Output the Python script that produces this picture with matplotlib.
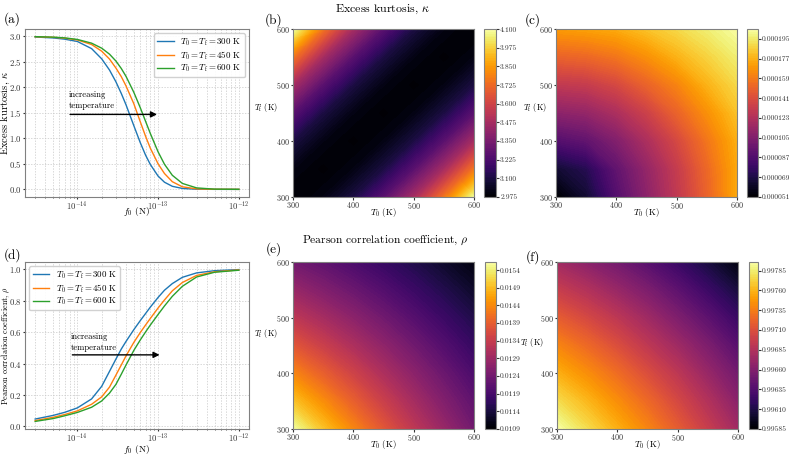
import numpy as np
import matplotlib
matplotlib.use('Agg')
import matplotlib.pyplot as plt
from matplotlib.ticker import FormatStrFormatter

plt.rcParams['font.family'] = 'serif'
plt.rcParams['font.serif'] = ['cmr10']
plt.rcParams['mathtext.fontset'] = 'cm'
plt.rcParams['axes.formatter.use_mathtext'] = True
plt.rcParams['axes.edgecolor'] = '0.5'

# сила f0 (N), спільна для лівих панелей
f0 = [3e-15, 5e-15, 7e-15, 1e-14, 1.5e-14, 2e-14, 2.5e-14, 3e-14, 3.5e-14, 4e-14,
      5e-14, 6e-14, 7e-14, 8e-14, 1e-13, 1.2e-13, 1.5e-13, 2e-13, 3e-13, 5e-13, 1e-12]

# (a) excess kurtosis
kappa_300 = [2.988, 2.97, 2.945, 2.9, 2.76, 2.56, 2.34, 2.11, 1.88, 1.66,
             1.25, 0.92, 0.67, 0.49, 0.26, 0.14, 0.06, 0.018, 0.003, 0.0005, 0.0]
kappa_450 = [2.993, 2.982, 2.965, 2.93, 2.84, 2.71, 2.555, 2.38, 2.21, 2.03,
             1.68, 1.33, 1.04, 0.81, 0.5, 0.31, 0.15, 0.05, 0.01, 0.002, 0.0002]
kappa_600 = [2.995, 2.985, 2.97, 2.94, 2.867, 2.769, 2.651, 2.517, 2.37, 2.217,
             1.904, 1.605, 1.333, 1.098, 0.735, 0.492, 0.276, 0.116, 0.029, 0.004, 0.0003]

# (d) Pearson correlation coefficient
rho_300 = [0.047, 0.07, 0.09, 0.118, 0.175, 0.255, 0.35, 0.428, 0.492, 0.54,
           0.615, 0.672, 0.718, 0.758, 0.82, 0.866, 0.908, 0.948, 0.976, 0.99, 0.997]
rho_450 = [0.037, 0.058, 0.076, 0.099, 0.141, 0.188, 0.25, 0.326, 0.391, 0.448,
           0.534, 0.596, 0.645, 0.686, 0.753, 0.804, 0.862, 0.915, 0.96, 0.983, 0.995]
rho_600 = [0.032, 0.05, 0.068, 0.089, 0.122, 0.162, 0.212, 0.267, 0.332, 0.39,
           0.483, 0.549, 0.601, 0.644, 0.712, 0.766, 0.827, 0.891, 0.95, 0.98, 0.993]

temps_line = [300, 450, 600]

# сітка температур для карт (рядки - Tf, стовпці - T0)
temps = [300, 350, 400, 450, 500, 550, 600]

kurt_b = [[2.98, 3.01, 3.10, 3.26, 3.47, 3.75, 4.08],
          [3.01, 2.98, 3.01, 3.10, 3.26, 3.47, 3.75],
          [3.10, 3.01, 2.98, 3.01, 3.10, 3.26, 3.47],
          [3.26, 3.10, 3.01, 2.98, 3.01, 3.10, 3.26],
          [3.47, 3.26, 3.10, 3.01, 2.98, 3.01, 3.10],
          [3.75, 3.47, 3.26, 3.10, 3.01, 2.98, 3.01],
          [4.10, 3.75, 3.47, 3.26, 3.10, 3.01, 2.98]]

kurt_c = [[51e-6, 64e-6, 88e-6, 109e-6, 129e-6, 150e-6, 174e-6],
          [64e-6, 72e-6, 93e-6, 112e-6, 131e-6, 152e-6, 174e-6],
          [88e-6, 93e-6, 105e-6, 121e-6, 138e-6, 157e-6, 176e-6],
          [109e-6, 112e-6, 121e-6, 134e-6, 150e-6, 166e-6, 182e-6],
          [129e-6, 131e-6, 138e-6, 150e-6, 162e-6, 177e-6, 189e-6],
          [150e-6, 152e-6, 157e-6, 166e-6, 177e-6, 187e-6, 196e-6],
          [170e-6, 172e-6, 175e-6, 182e-6, 189e-6, 196e-6, 203e-6]]

pear_e = [[0.01558, 0.01495, 0.01436, 0.01380, 0.01329, 0.01283, 0.01239],
          [0.01495, 0.01443, 0.01392, 0.01344, 0.01299, 0.01257, 0.01218],
          [0.01436, 0.01392, 0.01350, 0.01308, 0.01269, 0.01231, 0.01195],
          [0.01380, 0.01344, 0.01308, 0.01273, 0.01238, 0.01204, 0.01172],
          [0.01329, 0.01299, 0.01269, 0.01238, 0.01207, 0.01177, 0.01149],
          [0.01283, 0.01257, 0.01231, 0.01204, 0.01177, 0.01151, 0.01125],
          [0.01239, 0.01218, 0.01195, 0.01172, 0.01149, 0.01125, 0.01102]]

pear_f = [[0.99795, 0.99777, 0.99758, 0.99739, 0.99718, 0.99697, 0.99676],
          [0.99777, 0.99761, 0.99743, 0.99725, 0.99705, 0.99685, 0.99664],
          [0.99758, 0.99743, 0.99727, 0.99709, 0.99691, 0.99671, 0.99652],
          [0.99739, 0.99725, 0.99709, 0.99692, 0.99675, 0.99657, 0.99638],
          [0.99718, 0.99705, 0.99691, 0.99675, 0.99658, 0.99641, 0.99623],
          [0.99697, 0.99685, 0.99671, 0.99657, 0.99641, 0.99624, 0.99607],
          [0.99676, 0.99664, 0.99652, 0.99638, 0.99623, 0.99607, 0.99590]]

cb_ticks_b = [2.975, 3.1, 3.225, 3.35, 3.475, 3.6, 3.725, 3.85, 3.975, 4.1]
cb_ticks_c = [0.000051, 0.000069, 0.000087, 0.000105, 0.000123, 0.000141, 0.000159, 0.000177, 0.000195]
cb_ticks_e = [0.0109, 0.0114, 0.0119, 0.0124, 0.0129, 0.0134, 0.0139, 0.0144, 0.0149, 0.0154]
cb_ticks_f = [0.99585, 0.9961, 0.99635, 0.9966, 0.99685, 0.9971, 0.99735, 0.9976, 0.99785]

colors = ['tab:blue', 'tab:orange', 'tab:green']

W, H = 789, 454
fig = plt.figure(figsize=(W / 100, H / 100), dpi=100)


def box(left, top, right, bottom):
    return [left / W, 1 - bottom / H, (right - left) / W, (bottom - top) / H]


def line_panel(rect, curves, ylabel, ylsize, ylab_x, xlab_y, loc, arrow, text_xy):
    ax = fig.add_axes(rect)
    for vals, T, c in zip(curves, temps_line, colors):
        ax.plot(f0, vals, color=c, lw=1.0, label=r'$T_0 = T_\mathrm{f} = %d$ K' % T)
    ax.set_xscale('log')
    ax.grid(True, which='both', ls=(0, (2, 2)), lw=0.5, color='0.78')
    ax.set_axisbelow(True)
    ax.tick_params(which='both', labelsize=6.3, colors='0.2', length=1.6, pad=0.5)
    ax.tick_params(which='minor', length=1.0)
    ax.set_xlabel(r'$f_0$ (N)', fontsize=6.8, va='center')
    ax.xaxis.set_label_coords(0.5, xlab_y)
    ax.set_ylabel(ylabel, fontsize=ylsize)
    ax.yaxis.set_label_coords(ylab_x, 0.5)
    ax.legend(loc=loc, fontsize=6.4, handlelength=1.9, handletextpad=0.7,
              labelspacing=0.12, borderpad=0.35, framealpha=0.9, edgecolor='0.8')
    ax.annotate('', xy=arrow[1], xytext=arrow[0],
                arrowprops=dict(arrowstyle='-|>', color='k', lw=1.0, mutation_scale=9))
    ax.text(text_xy[0], text_xy[1], 'increasing\ntemperature', fontsize=6.2, va='bottom',
            linespacing=1.4)
    return ax


def map_panel(rect, cbrect, data, lo, hi, ticks, fmt, ylab_xy):
    ax = fig.add_axes(rect)
    levels = np.linspace(lo, hi, 100)
    cs = ax.contourf(temps, temps, np.array(data), levels=levels, cmap='inferno')
    ax.set_xticks([300, 400, 500, 600])
    ax.set_yticks([300, 400, 500, 600])
    ax.tick_params(labelsize=5.8, colors='0.2', length=1.8, pad=0.5)
    ax.set_xlabel(r'$T_0$ (K)', fontsize=6.4, va='center')
    ax.xaxis.set_label_coords(0.5, -0.095)
    ax.set_ylabel(r'$T_\mathrm{f}$ (K)', fontsize=6.0, rotation=0, ha='right', va='center')
    ax.yaxis.set_label_coords(*ylab_xy)
    cax = fig.add_axes(cbrect)
    cb = fig.colorbar(cs, cax=cax, ticks=ticks)
    cb.ax.yaxis.set_major_formatter(FormatStrFormatter(fmt))
    cb.ax.tick_params(labelsize=5.4, colors='0.2', length=2, pad=1)
    cb.outline.set_edgecolor('0.5')
    return ax


line_panel(box(25, 29, 249, 197), [kappa_300, kappa_450, kappa_600],
           r'Excess kurtosis, $\kappa$', 7.6, -0.056, -0.089, 'upper right',
           [(7.5e-15, 1.47), (1.05e-13, 1.47)], (7.8e-15, 1.55))
line_panel(box(25, 262, 249, 429), [rho_300, rho_450, rho_600],
           r'Pearson correlation coefficient, $\rho$', 5.9, -0.058, -0.12, 'upper left',
           [(8e-15, 0.455), (1.13e-13, 0.455)], (8.2e-15, 0.475))

map_panel(box(293, 29, 474, 197), box(484, 29, 496, 197), kurt_b, 2.975, 4.101, cb_ticks_b, '%.3f', (-0.083, 0.53))
map_panel(box(556, 29, 737, 197), box(747, 29, 758, 197), kurt_c, 0.000051, 0.000204, cb_ticks_c, '%.6f', (-0.05, 0.53))
map_panel(box(293, 262, 474, 429), box(485, 262, 496, 429), pear_e, 0.0109, 0.01563, cb_ticks_e, '%.4f', (-0.083, 0.57))
map_panel(box(557, 262, 738, 429), box(749, 262, 758, 429), pear_f, 0.99585, 0.99796, cb_ticks_f, '%.5f', (-0.07, 0.52))

fig.text(383 / W, 1 - 9 / H, r'Excess kurtosis, $\kappa$', ha='center', va='center', fontsize=8.6)
fig.text(385 / W, 1 - 240 / H, r'Pearson correlation coefficient, $\rho$', ha='center', va='center', fontsize=8.3)

for lab, x, y in [('(a)', 4, 19), ('(b)', 265, 20), ('(c)', 525, 20),
                  ('(d)', 4, 255), ('(e)', 266, 249), ('(f)', 526, 257)]:
    fig.text(x / W, 1 - y / H, lab, ha='left', va='center', fontsize=9.5)

fig.savefig('out.png', dpi=100)
